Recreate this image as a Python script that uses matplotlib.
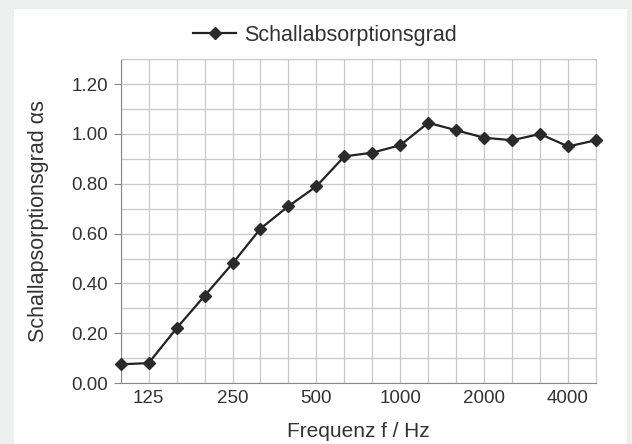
import matplotlib.pyplot as plt
from matplotlib.ticker import MultipleLocator
import numpy as np

plt.rcParams['font.family'] = ['Liberation Sans', 'DejaVu Sans']

# third-octave bands, 100 Hz .. 5000 Hz
freqs = [100, 125, 160, 200, 250, 315, 400, 500, 630, 800,
         1000, 1250, 1600, 2000, 2500, 3150, 4000, 5000]
alpha = [0.075, 0.08, 0.22, 0.35, 0.48, 0.62, 0.71, 0.79, 0.91, 0.925,
         0.955, 1.045, 1.015, 0.985, 0.975, 1.00, 0.95, 0.975]
shown_labels = ['125', '250', '500', '1000', '2000', '4000']

fig = plt.figure(figsize=(6.32, 4.44), dpi=100)
fig.patch.set_facecolor('#eef0ef')
# white panel
fig.patches.append(plt.Rectangle((14 / 632, 0), 613 / 632, 435 / 444,
                                 transform=fig.transFigure, facecolor='white',
                                 edgecolor='none', zorder=-1))

ax = fig.add_axes([120.7 / 632, 1 - 383 / 444, (596 - 120.7) / 632, (383 - 59.3) / 444])
ax.set_facecolor('white')

x = np.arange(len(freqs))
ax.plot(x, alpha, color='#222222', linewidth=1.6, marker='D', markersize=6,
        markerfacecolor='#2a2a2a', markeredgecolor='#2a2a2a',
        label='Schallabsorptionsgrad', zorder=3, clip_on=False)

ax.set_xlim(0, len(freqs) - 1)
ax.set_ylim(0, 1.3)
ax.set_xticks(x, minor=True)
ax.set_xticks([freqs.index(int(s)) for s in shown_labels])
ax.set_xticklabels(shown_labels)
ax.yaxis.set_major_locator(MultipleLocator(0.2))
ax.yaxis.set_minor_locator(MultipleLocator(0.1))
ax.yaxis.set_major_formatter(lambda v, p: f'{v:.2f}')

ax.grid(True, which='both', color='#c8c8c8', linewidth=0.9)
ax.set_axisbelow(True)
for side in ['top', 'right']:
    ax.spines[side].set_color('#c8c8c8')
ax.spines['left'].set_color('#888888')
ax.spines['bottom'].set_color('#888888')

ax.tick_params(axis='x', which='both', length=0, pad=5, labelsize=13.5, labelcolor='#333333')
ax.tick_params(axis='y', which='major', length=5, color='#888888', pad=4,
               labelsize=13.5, labelcolor='#333333')
ax.tick_params(axis='y', which='minor', length=0)

ax.set_xlabel('Frequenz f / Hz', fontsize=15, color='#333333', labelpad=11)
ax.set_ylabel('Schallapsorptionsgrad αs', fontsize=15.5, color='#333333', labelpad=16)

fig.legend(*ax.get_legend_handles_labels(), loc='center', bbox_to_anchor=(325 / 632, 1 - 35 / 444),
           frameon=False, fontsize=15.5, handlelength=2.0, handletextpad=0.35,
           labelcolor='#333333')

fig.savefig('out.png', dpi=100, facecolor=fig.get_facecolor())
